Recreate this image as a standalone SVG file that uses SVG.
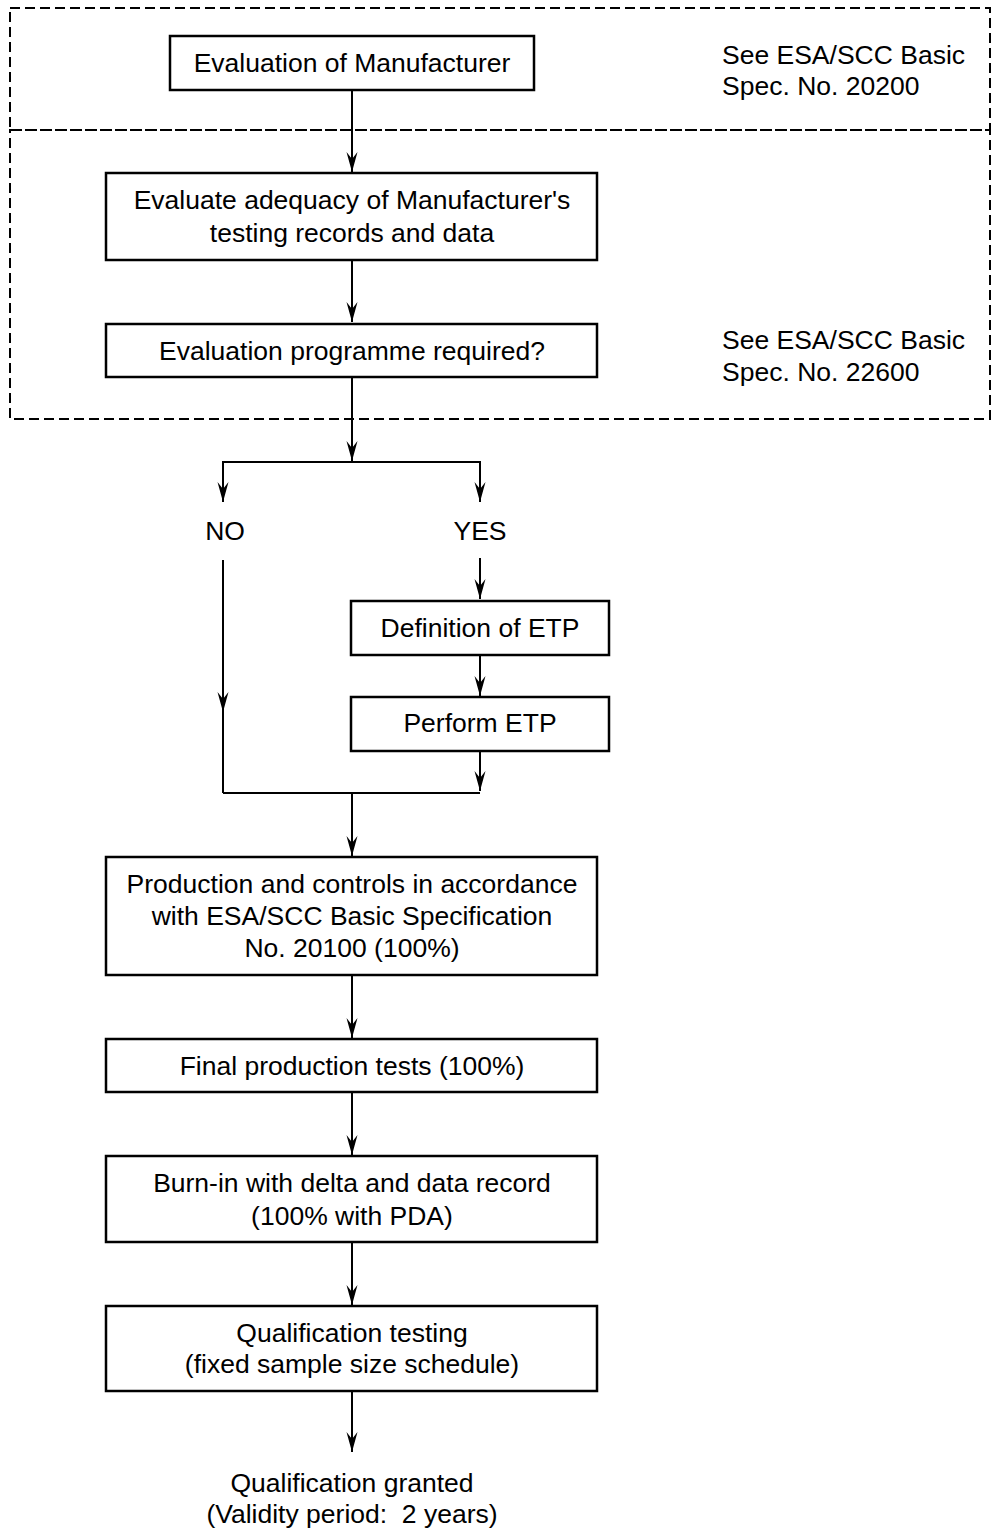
<svg xmlns="http://www.w3.org/2000/svg" width="993" height="1530" viewBox="0 0 993 1530">
<style>
  .box { fill: #fff; stroke: #000; stroke-width: 2.5; }
  .dash { fill: none; stroke: #000; stroke-width: 2; stroke-dasharray: 10 5; }
  .ln { fill: none; stroke: #000; stroke-width: 2; }
  text { font-family: "Liberation Sans", Arial, sans-serif; font-size: 26.5px; fill: #000; }
  .c { text-anchor: middle; }
</style>
<defs>
  <marker id="ah" markerUnits="userSpaceOnUse" markerWidth="24" markerHeight="14" viewBox="-22 -7 24 14" refX="0" refY="0" orient="auto">
    <path d="M0,0 L-20,-5.5 L-13,0 L-20,5.5 Z" fill="#000"/>
  </marker>
</defs>
<g id="regions">
  <rect class="dash" x="10" y="8" width="980" height="122"/>
  <rect class="dash" x="10" y="130" width="980" height="289"/>
</g>
<g id="connectors">
  <line class="ln" x1="352" y1="90" x2="352" y2="172" marker-end="url(#ah)"/>
  <line class="ln" x1="352" y1="260" x2="352" y2="322" marker-end="url(#ah)"/>
  <line class="ln" x1="352" y1="377" x2="352" y2="461" marker-end="url(#ah)"/>
  <polyline class="ln" points="223,502 223,462 480,462 480,502"/>
  <line class="ln" x1="223" y1="462" x2="223" y2="502" marker-end="url(#ah)"/>
  <line class="ln" x1="480" y1="462" x2="480" y2="502" marker-end="url(#ah)"/>
  <line class="ln" x1="223" y1="560" x2="223" y2="712" marker-end="url(#ah)"/>
  <line class="ln" x1="223" y1="675" x2="223" y2="793"/>
  <line class="ln" x1="480" y1="558" x2="480" y2="599" marker-end="url(#ah)"/>
  <line class="ln" x1="480" y1="655" x2="480" y2="696" marker-end="url(#ah)"/>
  <line class="ln" x1="480" y1="751" x2="480" y2="791" marker-end="url(#ah)"/>
  <polyline class="ln" points="223,793 480,793"/>
  <line class="ln" x1="352" y1="793" x2="352" y2="856" marker-end="url(#ah)"/>
  <line class="ln" x1="352" y1="975" x2="352" y2="1038" marker-end="url(#ah)"/>
  <line class="ln" x1="352" y1="1092" x2="352" y2="1155" marker-end="url(#ah)"/>
  <line class="ln" x1="352" y1="1242" x2="352" y2="1305" marker-end="url(#ah)"/>
  <line class="ln" x1="352" y1="1391" x2="352" y2="1452" marker-end="url(#ah)"/>
</g>
<g id="n1">
  <rect class="box" x="170" y="36" width="364" height="54"/>
  <text class="c" x="352" y="72">Evaluation of Manufacturer</text>
</g>
<g id="note1">
  <text x="722" y="64">See ESA/SCC Basic</text>
  <text x="722" y="95">Spec. No. 20200</text>
</g>
<g id="n2">
  <rect class="box" x="106" y="173" width="491" height="87"/>
  <text class="c" x="352" y="209">Evaluate adequacy of Manufacturer's</text>
  <text class="c" x="352" y="242">testing records and data</text>
</g>
<g id="n3">
  <rect class="box" x="106" y="324" width="491" height="53"/>
  <text class="c" x="352" y="360">Evaluation programme required?</text>
</g>
<g id="note2">
  <text x="722" y="349">See ESA/SCC Basic</text>
  <text x="722" y="381">Spec. No. 22600</text>
</g>
<g id="no">
  <text class="c" x="225" y="540">NO</text>
</g>
<g id="yes">
  <text class="c" x="480" y="540">YES</text>
</g>
<g id="n4">
  <rect class="box" x="351" y="601" width="258" height="54"/>
  <text class="c" x="480" y="637">Definition of ETP</text>
</g>
<g id="n5">
  <rect class="box" x="351" y="697" width="258" height="54"/>
  <text class="c" x="480" y="732">Perform ETP</text>
</g>
<g id="n6">
  <rect class="box" x="106" y="857" width="491" height="118"/>
  <text class="c" x="352" y="893">Production and controls in accordance</text>
  <text class="c" x="352" y="925">with ESA/SCC Basic Specification</text>
  <text class="c" x="352" y="957">No. 20100 (100%)</text>
</g>
<g id="n7">
  <rect class="box" x="106" y="1039" width="491" height="53"/>
  <text class="c" x="352" y="1075">Final production tests (100%)</text>
</g>
<g id="n8">
  <rect class="box" x="106" y="1156" width="491" height="86"/>
  <text class="c" x="352" y="1192">Burn-in with delta and data record</text>
  <text class="c" x="352" y="1225">(100% with PDA)</text>
</g>
<g id="n9">
  <rect class="box" x="106" y="1306" width="491" height="85"/>
  <text class="c" x="352" y="1342">Qualification testing</text>
  <text class="c" x="352" y="1373">(fixed sample size schedule)</text>
</g>
<g id="n10">
  <text class="c" x="352" y="1492">Qualification granted</text>
  <text class="c" x="352" y="1523" style="white-space:pre">(Validity period:  2 years)</text>
</g>
</svg>
